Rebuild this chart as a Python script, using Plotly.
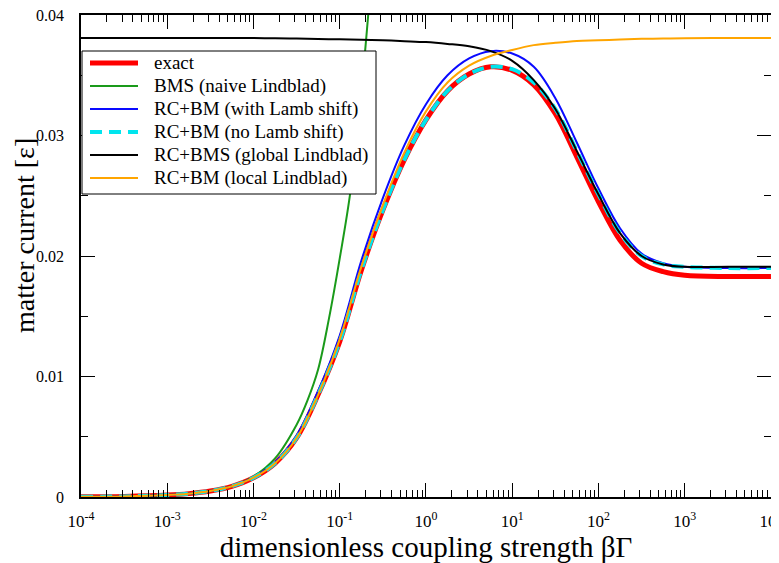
import plotly.graph_objects as go

# x values: coupling strength beta*Gamma
x = [1e-4, 3.162e-4, 1e-3, 1.778e-3, 3.162e-3, 5.623e-3, 1e-2, 1.778e-2, 3.162e-2, 5.623e-2,
     0.1, 0.1778, 0.3162, 0.5623, 1.0, 1.778, 3.162, 5.623, 10.0, 17.78, 31.62, 56.23,
     100.0, 177.8, 316.2, 562.3, 1000.0, 3162.0, 10000.0]

exact = [0.000016, 0.00005, 0.00016, 0.00028, 0.0005, 0.00089, 0.0016, 0.0028, 0.0049, 0.0085,
         0.0129, 0.0188, 0.0238, 0.0280, 0.0313, 0.0337, 0.0351, 0.0357, 0.0354, 0.0342, 0.0318, 0.0282,
         0.0245, 0.0213, 0.0194, 0.0187, 0.0184, 0.0183, 0.0183]

lamb = [0.000016, 0.00005, 0.00016, 0.00028, 0.0005, 0.0009, 0.00163, 0.0029, 0.0051, 0.0088,
        0.0134, 0.0196, 0.0248, 0.0292, 0.0326, 0.0350, 0.0364, 0.0370, 0.0368, 0.0357, 0.0331, 0.0294,
        0.0256, 0.0223, 0.0202, 0.0194, 0.0191, 0.0190, 0.0190]

nolamb = [0.000016, 0.00005, 0.00016, 0.00028, 0.0005, 0.00089, 0.0016, 0.0028, 0.0049, 0.0085,
          0.0129, 0.0188, 0.0238, 0.0280, 0.0313, 0.0337, 0.0351, 0.0357, 0.0355, 0.0344, 0.0322, 0.0287,
          0.0251, 0.0219, 0.0200, 0.0193, 0.0191, 0.0190, 0.0190]

global_l = [0.0381, 0.0381, 0.0381, 0.0381, 0.0381, 0.0381, 0.03809, 0.03807, 0.03804, 0.03801,
            0.03798, 0.03794, 0.0379, 0.03783, 0.03775, 0.0376, 0.0374, 0.0370, 0.0362, 0.0346, 0.0322, 0.0287,
            0.0251, 0.0219, 0.0200, 0.0193, 0.0191, 0.0191, 0.0191]

local_l = [0.000016, 0.00005, 0.00016, 0.00028, 0.0005, 0.00089, 0.0016, 0.0028, 0.0049, 0.0085,
           0.0131, 0.0191, 0.0242, 0.0286, 0.0320, 0.0344, 0.0358, 0.0366, 0.0371, 0.0375, 0.0377, 0.03785,
           0.0379, 0.03797, 0.03802, 0.03805, 0.03807, 0.03809, 0.0381]

x_bms = [1e-4, 3.162e-4, 1e-3, 1.778e-3, 3.162e-3, 5.623e-3, 1e-2, 1.778e-2, 3.162e-2, 4.217e-2,
         5.623e-2, 7.499e-2, 0.1, 0.1334, 0.1778, 0.2371, 0.3162]
bms = [0.000016, 0.00005, 0.00016, 0.00028, 0.0005, 0.0009, 0.0017, 0.0032, 0.0060, 0.0080,
       0.0106, 0.0148, 0.0198, 0.0254, 0.0336, 0.0440, 0.0570]

names = ["exact", "BMS (naive Lindblad)", "RC+BM (with Lamb shift)",
         "RC+BM (no Lamb shift)", "RC+BMS (global Lindblad)", "RC+BM (local Lindblad)"]

x_tickvals = [1e-4, 1e-3, 1e-2, 1e-1, 1, 10, 100, 1000, 10000]
x_ticktext = ["10<sup>-4</sup>", "10<sup>-3</sup>", "10<sup>-2</sup>", "10<sup>-1</sup>",
              "10<sup>0</sup>", "10<sup>1</sup>", "10<sup>2</sup>", "10<sup>3</sup>", "10<sup>4</sup>"]
y_tickvals = [0, 0.01, 0.02, 0.03, 0.04]
y_ticktext = ["0", "0.01", "0.02", "0.03", "0.04"]

FONT = "Liberation Serif"

styles = [
    dict(color="#ff0000", width=5),
    dict(color="#1a9a1a", width=2),
    dict(color="#0a0aff", width=2),
    dict(color="#00e5ee", width=4, dash="12px,7px"),
    dict(color="#000000", width=2),
    dict(color="#ffa500", width=2),
]
series = [(x, exact), (x_bms, bms), (x, lamb), (x, nolamb), (x, global_l), (x, local_l)]

fig = go.Figure()
for (xs, ys), nm, st in zip(series, names, styles):
    fig.add_trace(go.Scatter(x=xs, y=ys, name=nm, mode="lines", showlegend=False,
                             line=dict(shape="spline", smoothing=1.0, **st)))

# plot-area corners in page pixels (page body has an 8px margin)
L, R, T, B = 81, 771, 15, 497
W, H = R - L, B - T
def px(xp):
    return (xp - L) / W
def py(yp):
    return (B - yp) / H

shapes = [dict(type="rect", xref="paper", yref="paper",
               x0=px(82), x1=px(376), y0=py(194), y1=py(51),
               line=dict(color="black", width=1), fillcolor="white", layer="above")]
annotations = []
for i, (nm, st) in enumerate(zip(names, styles)):
    yy = 63 + 23 * i
    ln = dict(color=st["color"], width=st["width"])
    if "dash" in st:
        ln["dash"] = st["dash"]
    shapes.append(dict(type="line", xref="paper", yref="paper",
                       x0=px(90), x1=px(138), y0=py(yy), y1=py(yy), line=ln, layer="above"))
    annotations.append(dict(xref="paper", yref="paper", x=px(152), y=py(yy),
                            xanchor="left", yanchor="middle", showarrow=False, text=nm,
                            font=dict(family=FONT, size=19, color="black")))

# y axis title (placed slightly above the axis centre, as in the original)
annotations.append(dict(xref="paper", yref="paper", x=px(24), y=py(236),
                        xanchor="center", yanchor="middle", showarrow=False, textangle=-90,
                        text="matter current [ε]", font=dict(family=FONT, size=28, color="black")))

fig.update_layout(
    width=771, height=555,
    margin=dict(l=73, r=8, t=7, b=66, autoexpand=False),
    paper_bgcolor="white", plot_bgcolor="white",
    font=dict(family=FONT, color="black", size=16),
    showlegend=False,
    shapes=shapes,
    annotations=annotations,
)

fig.update_xaxes(
    type="log", range=[-4, 4.0005], automargin=False,
    tickmode="array", tickvals=x_tickvals, ticktext=x_ticktext, ticklabeloverflow="allow",
    showline=True, linecolor="black", linewidth=1.5, mirror="allticks",
    ticks="inside", ticklen=14, tickwidth=1, tickcolor="black",
    minor=dict(dtick="D1", ticks="inside", ticklen=7, tickwidth=1, tickcolor="black", showgrid=False),
    showgrid=False, zeroline=False, ticklabelstandoff=8,
    tickfont=dict(family=FONT, size=17),
    title=dict(text="dimensionless coupling strength βΓ", font=dict(family=FONT, size=29), standoff=2),
)
fig.update_yaxes(
    range=[0, 0.04], automargin=False,
    tickmode="array", tickvals=y_tickvals, ticktext=y_ticktext, ticklabeloverflow="allow",
    showline=True, linecolor="black", linewidth=1.5, mirror="allticks",
    ticks="inside", ticklen=14, tickwidth=1, tickcolor="black",
    minor=dict(dtick=0.005, ticks="inside", ticklen=7, tickwidth=1, tickcolor="black", showgrid=False),
    showgrid=False, zeroline=False, ticklabelstandoff=12,
    tickfont=dict(family=FONT, size=16),
)

fig.write_html("out.html")
